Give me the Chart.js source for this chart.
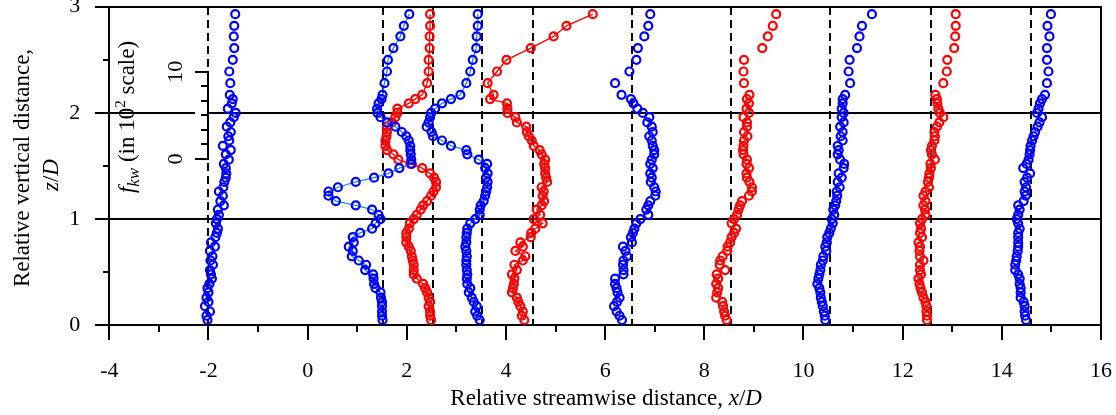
<!DOCTYPE html>
<html>
<head>
<meta charset="utf-8">
<script src="https://cdn.jsdelivr.net/npm/chart.js@4/dist/chart.umd.min.js"></script>
<style>
  html, body { margin: 0; padding: 0; background: #fff; }
  canvas { display: block; }
</style>
</head>
<body>
<canvas id="c" width="1116" height="415"></canvas>
<script>
// Measurement heights z/D shared by every profile (top to bottom)
const zLevels = [2.93, 2.82, 2.72, 2.61, 2.50, 2.39, 2.28, 2.17,
  2.13, 2.09, 2.04, 2.00, 1.96, 1.91, 1.87, 1.82, 1.78, 1.74,
  1.69, 1.65, 1.61, 1.56, 1.52, 1.48, 1.43, 1.39, 1.35, 1.30,
  1.26, 1.22, 1.17, 1.13, 1.09, 1.04, 1.00, 0.96, 0.91, 0.87,
  0.83, 0.78, 0.74, 0.70, 0.65, 0.61, 0.57, 0.52, 0.48, 0.44,
  0.39, 0.35, 0.31, 0.26, 0.22, 0.18, 0.13, 0.09, 0.05];

// Streamwise stations x/D (dashed reference lines)
const stations = [-2, 1.51, 2.53, 3.52, 4.54, 6.54, 8.54, 10.54, 12.58, 14.58];

// Profiles: station position + scaled f_kw, one value per height in zLevels
const p_m2 = [-1.46, -1.48, -1.49, -1.48, -1.51, -1.58, -1.56, -1.57,
  -1.51, -1.53, -1.61, -1.45, -1.49, -1.56, -1.63, -1.55, -1.60, -1.58,
  -1.71, -1.55, -1.65, -1.59, -1.69, -1.65, -1.64, -1.65, -1.68, -1.70,
  -1.79, -1.71, -1.76, -1.69, -1.81, -1.79, -1.83, -1.85, -1.81, -1.83,
  -1.86, -1.95, -1.87, -1.97, -1.92, -1.96, -1.91, -1.97, -1.95, -1.93,
  -1.98, -2.02, -2.00, -2.04, -2.00, -2.07, -1.97, -2.04, -2.02];
const p_1_5 = [2.05, 1.94, 1.87, 1.73, 1.62, 1.60, 1.55, 1.51,
  1.49, 1.43, 1.40, 1.41, 1.47, 1.60, 1.77, 1.90, 1.99, 2.04,
  2.07, 2.07, 2.08, 2.09, 2.10, 1.85, 1.63, 1.34, 0.97, 0.61,
  0.42, 0.42, 0.57, 0.97, 1.30, 1.43, 1.47, 1.37, 1.30, 1.06,
  0.91, 0.93, 0.83, 0.91, 0.89, 1.03, 1.18, 1.16, 1.32, 1.33,
  1.34, 1.37, 1.47, 1.48, 1.50, 1.50, 1.50, 1.50, 1.51];
const p_2_5 = [2.47, 2.47, 2.46, 2.46, 2.44, 2.44, 2.41, 2.31,
  2.17, 2.04, 1.81, 1.81, 1.77, 1.70, 1.60, 1.60, 1.59, 1.57,
  1.57, 1.60, 1.73, 1.83, 2.07, 2.31, 2.47, 2.55, 2.59, 2.59,
  2.54, 2.49, 2.41, 2.33, 2.28, 2.20, 2.14, 2.06, 2.04, 1.99,
  1.99, 1.99, 2.04, 2.08, 2.10, 2.12, 2.14, 2.14, 2.14, 2.20,
  2.33, 2.37, 2.41, 2.44, 2.47, 2.44, 2.47, 2.47, 2.49];
const p_3_5 = [3.43, 3.43, 3.41, 3.40, 3.33, 3.28, 3.20, 3.08,
  2.89, 2.71, 2.57, 2.49, 2.47, 2.44, 2.40, 2.50, 2.53, 2.71,
  2.89, 3.20, 3.22, 3.45, 3.62, 3.58, 3.63, 3.60, 3.63, 3.62,
  3.60, 3.58, 3.55, 3.49, 3.47, 3.47, 3.38, 3.28, 3.22, 3.21,
  3.20, 3.20, 3.18, 3.20, 3.21, 3.20, 3.20, 3.21, 3.22, 3.21,
  3.22, 3.28, 3.25, 3.31, 3.35, 3.41, 3.38, 3.42, 3.47];
const p_4_5 = [5.75, 5.22, 4.96, 4.50, 4.01, 3.82, 3.63, 3.75,
  3.68, 4.02, 4.03, 4.03, 4.19, 4.22, 4.41, 4.42, 4.46, 4.52,
  4.56, 4.68, 4.72, 4.79, 4.77, 4.79, 4.79, 4.81, 4.83, 4.72,
  4.76, 4.74, 4.77, 4.72, 4.62, 4.69, 4.56, 4.74, 4.59, 4.51,
  4.50, 4.29, 4.34, 4.19, 4.39, 4.34, 4.17, 4.22, 4.12, 4.17,
  4.16, 4.14, 4.12, 4.22, 4.25, 4.29, 4.34, 4.32, 4.37];
const p_6_5 = [6.91, 6.87, 6.79, 6.66, 6.63, 6.49, 6.20, 6.33,
  6.52, 6.57, 6.65, 6.76, 6.89, 6.85, 6.94, 6.96, 6.89, 6.94,
  6.96, 6.99, 6.99, 6.94, 6.91, 6.96, 6.91, 6.94, 6.92, 6.99,
  7.02, 7.01, 6.91, 6.87, 6.83, 6.87, 6.71, 6.63, 6.59, 6.56,
  6.52, 6.54, 6.36, 6.41, 6.44, 6.37, 6.36, 6.37, 6.37, 6.20,
  6.20, 6.23, 6.25, 6.29, 6.24, 6.18, 6.23, 6.29, 6.34];
const p_8_5 = [9.45, 9.38, 9.28, 9.17, 8.80, 8.79, 8.80, 8.91,
  8.86, 8.90, 8.85, 8.90, 8.79, 8.86, 8.86, 8.80, 8.87, 8.80,
  8.79, 8.78, 8.79, 8.86, 8.85, 8.90, 8.85, 8.86, 8.91, 8.96,
  8.96, 8.90, 8.76, 8.72, 8.69, 8.66, 8.60, 8.55, 8.64, 8.60,
  8.55, 8.52, 8.47, 8.46, 8.37, 8.32, 8.31, 8.42, 8.25, 8.28,
  8.24, 8.28, 8.26, 8.24, 8.36, 8.38, 8.40, 8.42, 8.45];
const p_10_5 = [11.38, 11.18, 11.13, 11.08, 10.93, 10.91, 10.94, 10.84,
  10.79, 10.79, 10.77, 10.81, 10.77, 10.81, 10.74, 10.79, 10.75, 10.79,
  10.69, 10.71, 10.69, 10.74, 10.82, 10.81, 10.71, 10.77, 10.69, 10.73,
  10.67, 10.68, 10.66, 10.64, 10.60, 10.62, 10.57, 10.59, 10.55, 10.52,
  10.48, 10.47, 10.44, 10.46, 10.40, 10.39, 10.35, 10.34, 10.32, 10.30,
  10.28, 10.32, 10.34, 10.35, 10.37, 10.39, 10.41, 10.43, 10.44];
const p_12_5 = [13.07, 13.07, 13.06, 13.04, 12.90, 12.89, 12.82, 12.66,
  12.69, 12.70, 12.72, 12.75, 12.82, 12.74, 12.69, 12.64, 12.65, 12.64,
  12.59, 12.57, 12.59, 12.65, 12.56, 12.57, 12.54, 12.53, 12.51, 12.53,
  12.46, 12.42, 12.46, 12.42, 12.45, 12.46, 12.39, 12.35, 12.37, 12.35,
  12.39, 12.32, 12.35, 12.34, 12.35, 12.42, 12.35, 12.35, 12.37, 12.32,
  12.34, 12.36, 12.39, 12.42, 12.46, 12.48, 12.48, 12.49, 12.49];
const p_14_5 = [14.99, 14.92, 14.96, 14.91, 14.91, 14.94, 14.91, 14.87,
  14.81, 14.77, 14.74, 14.71, 14.81, 14.76, 14.72, 14.67, 14.64, 14.61,
  14.58, 14.57, 14.56, 14.54, 14.50, 14.43, 14.57, 14.51, 14.46, 14.49,
  14.46, 14.48, 14.44, 14.33, 14.36, 14.33, 14.30, 14.33, 14.36, 14.33,
  14.33, 14.33, 14.33, 14.32, 14.30, 14.29, 14.27, 14.27, 14.33, 14.36,
  14.36, 14.38, 14.38, 14.38, 14.44, 14.46, 14.46, 14.47, 14.49];

// Axis tick values
const xTickLabels = [-4, -2, 0, 2, 4, 6, 8, 10, 12, 14, 16];
const yTickLabels = [0, 1, 2, 3];
const yRefLines = [1, 2];

// f_kw inset scale (in 10^2), drawn on the x/D = -2 station line
const insetLabels = [0, 10];
const insetZero = 1.566;     // z/D where f_kw = 0
const insetUnit = 0.0822;    // z/D per f_kw unit
const insetDivisions = 6;

const BLUE = '#0000ff', RED = '#ff0000';
const SERIF = "'Liberation Serif', 'Times New Roman', serif";

const series = [
  { name: 'x/D = -2',   xs: p_m2,   color: BLUE, joined: false },
  { name: 'x/D = 1.5',  xs: p_1_5,  color: BLUE, joined: true, line: '#1a8cff' },
  { name: 'x/D = 2.5',  xs: p_2_5,  color: RED,  joined: true, line: RED },
  { name: 'x/D = 3.5',  xs: p_3_5,  color: BLUE, joined: true, line: '#1a8cff' },
  { name: 'x/D = 4.5',  xs: p_4_5,  color: RED,  joined: true, line: RED },
  { name: 'x/D = 6.5',  xs: p_6_5,  color: BLUE, joined: false },
  { name: 'x/D = 8.5',  xs: p_8_5,  color: RED,  joined: false },
  { name: 'x/D = 10.5', xs: p_10_5, color: BLUE, joined: false },
  { name: 'x/D = 12.5', xs: p_12_5, color: RED,  joined: false },
  { name: 'x/D = 14.5', xs: p_14_5, color: BLUE, joined: false }
];

const datasets = series.map(s => ({
  label: s.name,
  data: s.xs.map((v, i) => ({ x: v, y: zLevels[i] })),
  showLine: s.joined,
  borderColor: s.joined ? s.line : s.color,
  borderWidth: 1.3,
  pointBorderColor: s.color,
  pointBackgroundColor: 'rgba(0,0,0,0)',
  pointBorderWidth: 2.2,
  pointRadius: 4,
  pointStyle: 'circle'
}));

function drawRuns(ctx, runs, cx, baseY) {
  let total = 0;
  runs.forEach(r => { ctx.font = r.font; r.w = ctx.measureText(r.t).width; total += r.w; });
  let x = cx - total / 2;
  ctx.textAlign = 'left';
  ctx.textBaseline = 'alphabetic';
  runs.forEach(r => { ctx.font = r.font; ctx.fillText(r.t, x, baseY + (r.dy || 0)); x += r.w; });
}

const axesPlugin = {
  id: 'axesPlugin',
  beforeDatasetsDraw(chart) {
    const { ctx, chartArea: a, scales: { x, y } } = chart;
    const L = Math.round(a.left), R = Math.round(a.right), T = Math.round(a.top), B = Math.round(a.bottom);
    const seg = (x1, y1, x2, y2) => { ctx.beginPath(); ctx.moveTo(x1, y1); ctx.lineTo(x2, y2); ctx.stroke(); };
    const rx = v => Math.round(x.getPixelForValue(v));
    const ry = v => Math.round(y.getPixelForValue(v));
    ctx.save();
    ctx.strokeStyle = '#000';
    ctx.lineCap = 'butt';

    // dashed station lines
    ctx.lineWidth = 2;
    ctx.setLineDash([8, 5]);
    stations.forEach(v => { const px = rx(v); seg(px, T, px, B); });
    ctx.setLineDash([]);

    // inset axis geometry
    const ax = rx(stations[0]);
    const iy = v => Math.round(y.getPixelForValue(insetZero + v * insetUnit));

    // horizontal reference lines, y = 2 interrupted by the inset ticks
    ctx.lineWidth = 2;
    yRefLines.forEach(v => {
      const py = ry(v);
      if (py < iy(insetLabels[1]) || py > iy(insetLabels[0])) {
        seg(L - 14, py, R, py);
      } else {
        seg(L - 14, py, ax - 13, py);
        seg(ax, py, R, py);
      }
    });

    // frame
    seg(L - 14, T, R + 1, T);
    seg(L - 14, B, R + 1, B);
    seg(L, T - 1, L, B + 15);
    seg(R, T - 1, R, B + 15);

    // y ticks (major outward 14px, minor 6px)
    for (let v = 0; v <= 3.001; v += 0.5) {
      const py = ry(v);
      const major = Math.abs(v - Math.round(v)) < 1e-6;
      seg(L - (major ? 14 : 6), py, L, py);
    }
    // x ticks (major downward 15px, minor 7px)
    for (let v = -4; v <= 16; v += 1) {
      const px = rx(v);
      seg(px, B, px, B + (v % 2 === 0 ? 15 : 7));
    }

    // inset f_kw axis
    seg(ax, iy(insetLabels[0]) + 1, ax, iy(insetLabels[1]) - 1);
    for (let k = 0; k <= insetDivisions; k++) {
      const py = iy(insetLabels[0] + (insetLabels[1] - insetLabels[0]) * k / insetDivisions);
      const major = (k === 0 || k === insetDivisions);
      seg(ax - (major ? 13 : 7), py, ax, py);
    }
    ctx.restore();
  },
  afterDraw(chart) {
    const { ctx, chartArea: a, scales: { x, y } } = chart;
    ctx.save();
    ctx.fillStyle = '#000';
    const F = 23;
    const reg = F + 'px ' + SERIF, ita = 'italic ' + F + 'px ' + SERIF;

    // x title
    drawRuns(ctx, [
      { t: 'Relative streamwise distance, ', font: reg },
      { t: 'x', font: ita }, { t: '/', font: reg }, { t: 'D', font: ita }
    ], (a.left + a.right) / 2 + 1, 405);

    // y title (two lines, rotated)
    const cy = (a.top + a.bottom) / 2;
    ctx.save();
    ctx.translate(28.5, cy + 2);
    ctx.rotate(-Math.PI / 2);
    drawRuns(ctx, [{ t: 'Relative vertical distance,', font: reg }], 0, 0);
    ctx.restore();
    ctx.save();
    ctx.translate(58, cy + 9);
    ctx.rotate(-Math.PI / 2);
    drawRuns(ctx, [{ t: 'z', font: ita }, { t: '/', font: reg }, { t: 'D', font: ita }], 0, 0);
    ctx.restore();

    // inset scale labels
    const iy = v => y.getPixelForValue(insetZero + v * insetUnit);
    insetLabels.forEach(v => {
      ctx.save();
      ctx.translate(182, iy(v));
      ctx.rotate(-Math.PI / 2);
      drawRuns(ctx, [{ t: String(v), font: '22px ' + SERIF }], 0, 0);
      ctx.restore();
    });
    ctx.save();
    ctx.translate(134, 117);
    ctx.rotate(-Math.PI / 2);
    drawRuns(ctx, [
      { t: 'f', font: ita },
      { t: 'kw', font: 'italic 17px ' + SERIF, dy: 5 },
      { t: ' (in 10', font: reg },
      { t: '2', font: '15px ' + SERIF, dy: -9 },
      { t: ' scale)', font: reg }
    ], 0, 0);
    ctx.restore();
    ctx.restore();
  }
};

Chart.defaults.font.family = SERIF;
Chart.defaults.color = '#000';

new Chart(document.getElementById('c'), {
  type: 'scatter',
  data: { datasets },
  options: {
    responsive: false,
    animation: false,
    devicePixelRatio: 1,
    layout: { padding: { top: 6.7, right: 15, bottom: 0, left: 0 } },
    plugins: { legend: { display: false }, tooltip: { enabled: false } },
    scales: {
      x: {
        type: 'linear', min: xTickLabels[0], max: xTickLabels[xTickLabels.length - 1],
        grid: { display: false, drawTicks: false }, border: { display: false },
        afterBuildTicks: s => { s.ticks = xTickLabels.map(v => ({ value: v })); },
        ticks: { padding: 33, font: { size: 22 }, maxRotation: 0, autoSkip: false, color: '#000' },
        afterFit: s => { s.height = 89.7; s.paddingLeft = 0; s.paddingRight = 0; }
      },
      y: {
        type: 'linear', min: yTickLabels[0], max: yTickLabels[yTickLabels.length - 1],
        grid: { display: false, drawTicks: false }, border: { display: false },
        afterBuildTicks: s => { s.ticks = yTickLabels.map(v => ({ value: v })); },
        ticks: { padding: 29, font: { size: 22 }, color: '#000' },
        afterFit: s => { s.width = 109.3; s.paddingTop = 0; s.paddingBottom = 0; }
      }
    }
  },
  plugins: [axesPlugin]
});
</script>
</body>
</html>
